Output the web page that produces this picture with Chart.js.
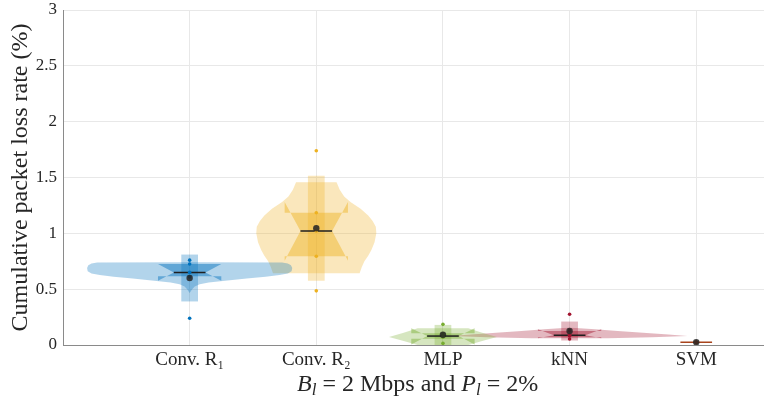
<!DOCTYPE html>
<html>
<head>
<meta charset="utf-8">
<script src="https://cdn.jsdelivr.net/npm/chart.js@4/dist/chart.umd.min.js"></script>
<style>
  body { margin: 0; background: #fff; }
</style>
</head>
<body>
<canvas id="chart" width="764" height="400"></canvas>
<script>
// classifiers on the x axis
const categories = ['Conv. R\u2081', 'Conv. R\u2082', 'MLP', 'kNN', 'SVM'];
const colors = ['#0072BD', '#EDB120', '#77AC30', '#A2142F', '#D95319'];

// loss rate (%) of each run
const samples = [
  [0.76, 0.725, 0.65, 0.61, 0.24],
  [1.74, 1.185, 1.02, 0.795, 0.485],
  [0.185, 0.10, 0.08, 0.07, 0.015],
  [0.275, 0.13, 0.087, 0.08, 0.054],
  [0.026, 0.024, 0.024, 0.022, 0.02]
];
const means = [0.60, 1.045, 0.092, 0.125, 0.024];
const medians = [0.65, 1.02, 0.08, 0.087, 0.024];
const q1 = [0.615, 0.795, 0.055, 0.07, 0.024];
const q3 = [0.725, 1.185, 0.105, 0.125, 0.024];
const notchLo = [0.575, 0.755, 0.005, 0.06, 0.024];
const notchHi = [0.725, 1.28, 0.15, 0.14, 0.024];
const whiskerLo = [0.39, 0.575, 0.0, 0.04, 0.022];
const whiskerHi = [0.81, 1.515, 0.18, 0.21, 0.026];

// kernel density outlines: [loss rate, half width]
const violinConvR1 = [[0.465, 0], [0.50, 0.02], [0.525, 0.04], [0.545, 0.08], [0.56, 0.15], [0.575, 0.28],
  [0.595, 0.45], [0.612, 0.60], [0.627, 0.71], [0.64, 0.775], [0.66, 0.805], [0.69, 0.81],
  [0.715, 0.80], [0.73, 0.775], [0.738, 0.73], [0.742, 0]];
const violinConvR2 = [[0.642, 0], [0.642, 0.342], [0.70, 0.36], [0.75, 0.38], [0.80, 0.41], [0.85, 0.435],
  [0.92, 0.46], [1.0, 0.474], [1.06, 0.47], [1.11, 0.445], [1.16, 0.41], [1.22, 0.35], [1.28, 0.27],
  [1.33, 0.22], [1.39, 0.185], [1.43, 0.17], [1.457, 0.16], [1.457, 0]];
const violinMLP = [[0, 0], [0, 0.2], [0.035, 0.31], [0.072, 0.426], [0.11, 0.31], [0.15, 0.2], [0.15, 0]];
const violinKNN = [[0.06, 0], [0.06, 0.3], [0.07, 0.65], [0.08, 0.93], [0.095, 0.78], [0.11, 0.58],
  [0.125, 0.38], [0.14, 0.2], [0.152, 0.05], [0.155, 0]];
const violinSVM = [];
const violins = [violinConvR1, violinConvR2, violinMLP, violinKNN, violinSVM];

const boxHalf = 0.25, notchHalf = 0.125, whiskerHalf = 0.066;

function rgba(hex, a) {
  const n = parseInt(hex.slice(1), 16);
  return 'rgba(' + (n >> 16) + ',' + ((n >> 8) & 255) + ',' + (n & 255) + ',' + a + ')';
}

function area(points, color, order) {
  return {
    data: points, fill: 'shape', backgroundColor: color, borderColor: 'transparent',
    borderWidth: 0, pointRadius: 0, tension: 0, order: order
  };
}

const datasets = [];
categories.forEach(function (name, i) {
  const c = i + 1, col = colors[i];
  const prof = violins[i];
  if (prof.length) {
    const right = prof.map(p => ({ x: c + p[1], y: p[0] }));
    const left = prof.slice().reverse().map(p => ({ x: c - p[1], y: p[0] }));
    datasets.push(area(right.concat(left), rgba(col, 0.3), 6));
  }
  // whisker range
  datasets.push(area([
    { x: c - whiskerHalf, y: whiskerLo[i] }, { x: c + whiskerHalf, y: whiskerLo[i] },
    { x: c + whiskerHalf, y: whiskerHi[i] }, { x: c - whiskerHalf, y: whiskerHi[i] }
  ], rgba(col, 0.3), 5));
  // notched box
  datasets.push(area([
    { x: c - boxHalf, y: q3[i] }, { x: c + boxHalf, y: q3[i] }, { x: c + boxHalf, y: notchHi[i] },
    { x: c + notchHalf, y: medians[i] }, { x: c + boxHalf, y: notchLo[i] }, { x: c + boxHalf, y: q1[i] },
    { x: c - boxHalf, y: q1[i] }, { x: c - boxHalf, y: notchLo[i] }, { x: c - notchHalf, y: medians[i] },
    { x: c - boxHalf, y: notchHi[i] }
  ], rgba(col, 0.45), 4));
  // median
  datasets.push({
    data: [{ x: c - notchHalf, y: medians[i] }, { x: c + notchHalf, y: medians[i] }],
    borderColor: i === 4 ? '#a8441c' : '#1f1f1f', borderWidth: 1.5, pointRadius: 0, fill: false, order: 3
  });
  // individual runs
  datasets.push({
    data: samples[i].map(v => ({ x: c, y: v })), showLine: false,
    pointRadius: 1.8, pointBackgroundColor: col, pointBorderWidth: 0, order: 2
  });
  // mean
  datasets.push({
    data: [{ x: c, y: means[i] }], showLine: false,
    pointRadius: 3.2, pointBackgroundColor: 'rgba(35,35,35,0.85)', pointBorderWidth: 0, order: 1
  });
});

// x axis title with italic symbols and subscripts
const xTitle = {
  id: 'xTitle',
  afterDraw(chart) {
    const ctx = chart.ctx;
    const parts = [
      { t: 'B', f: 'italic 24px "Liberation Serif"', dy: 0 },
      { t: 'l', f: 'italic 17px "Liberation Serif"', dy: 4 },
      { t: ' = 2 Mbps and ', f: '24px "Liberation Serif"', dy: 0 },
      { t: 'P', f: 'italic 24px "Liberation Serif"', dy: 0 },
      { t: 'l', f: 'italic 17px "Liberation Serif"', dy: 4 },
      { t: ' = 2%', f: '24px "Liberation Serif"', dy: 0 }
    ];
    ctx.save();
    let total = 0;
    parts.forEach(p => { ctx.font = p.f; p.w = ctx.measureText(p.t).width; total += p.w; });
    let x = chart.scales.x.getPixelForValue(2.8) - total / 2;
    const y = 391;
    ctx.fillStyle = '#262626';
    ctx.textBaseline = 'alphabetic';
    parts.forEach(p => { ctx.font = p.f; ctx.fillText(p.t, x, y + p.dy); x += p.w; });
    ctx.restore();
  }
};

new Chart(document.getElementById('chart'), {
  type: 'line',
  data: { datasets: datasets },
  options: {
    responsive: false,
    animation: false,
    devicePixelRatio: 1,
    layout: { autoPadding: false, padding: { top: 10, right: 0, left: 0, bottom: 0 } },
    plugins: { legend: { display: false }, tooltip: { enabled: false } },
    scales: {
      x: {
        type: 'linear', min: 0, max: 5.535,
        afterBuildTicks: s => { s.ticks = categories.map((n, i) => ({ value: i + 1 })); },
        afterFit: s => { s.height = 55; s.paddingLeft = 0; s.paddingRight = 0; },
        ticks: {
          callback: v => categories[v - 1], autoSkip: false, maxRotation: 0, padding: 4,
          color: '#262626', font: { family: 'Liberation Serif', size: 19 }
        },
        grid: { color: '#e8e8e8', drawTicks: false },
        border: { color: '#8a8a8a' }
      },
      y: {
        min: 0, max: 3,
        afterFit: s => { s.width = 63; s.paddingTop = 0; s.paddingBottom = 0; },
        ticks: {
          stepSize: 0.5, padding: 6, color: '#262626',
          callback: v => String(v),
          font: { family: 'Liberation Serif', size: 17 }
        },
        grid: { color: '#e8e8e8', drawTicks: false },
        border: { color: '#8a8a8a' },
        title: {
          display: true, text: 'Cumulative packet loss rate (%)', color: '#262626',
          font: { family: 'Liberation Serif', size: 24 }, padding: { top: 6, bottom: 0 }
        }
      }
    }
  },
  plugins: [xTitle]
});
</script>
</body>
</html>
